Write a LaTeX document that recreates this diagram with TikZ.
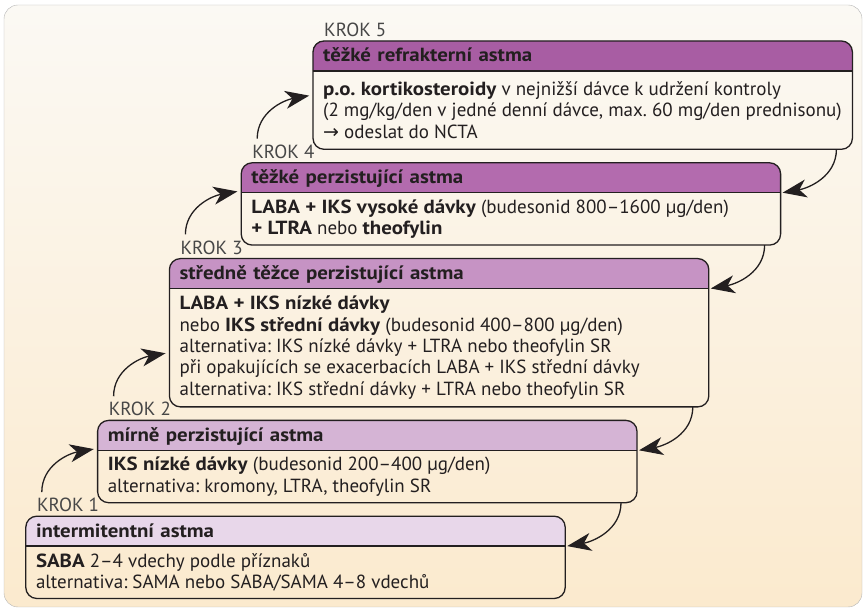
\documentclass[tikz,border=0pt]{standalone}
\usepackage{fontspec}
\setmainfont{PT Sans}[BoldFeatures={FakeStretch=1.1}]
\newfontfamily\arrowfont{DejaVu Sans}
\usetikzlibrary{arrows.meta,positioning,backgrounds}

\definecolor{frameline}{HTML}{B5B5B5}
\definecolor{bgtop}{HTML}{FBF9F4}
\definecolor{bgbottom}{HTML}{FBEACE}
\definecolor{boxline}{HTML}{231F20}
\definecolor{hd1}{HTML}{E8D7EA}
\definecolor{hd2}{HTML}{D5B4D5}
\definecolor{hd3}{HTML}{C693C4}
\definecolor{hd4}{HTML}{B36BAE}
\definecolor{hd5}{HTML}{A85DA3}

\frenchspacing
\begin{document}
\begin{tikzpicture}[
  x=1pt, y=1pt,
  font=\fontsize{19}{21.3}\selectfont,
  head/.style={anchor=north west, inner xsep=10pt, inner ysep=0pt, text width=519pt, minimum height=29.5pt, text height=14pt, text depth=2pt, font=\fontsize{19}{21.3}\selectfont\bfseries, text=boxline},
  body/.style={anchor=north west, inner xsep=10pt, inner ysep=0pt, align=left, text=boxline},
  krok/.style={inner sep=0pt, text=black!72},
  steparrow/.style={-{Stealth[length=24pt,width=18pt,inset=7pt]}, line width=1.3pt, draw=boxline},
  stepframe/.style={draw=boxline, line width=1.3pt, rounded corners=11pt}
]
  \useasboundingbox (0,0) rectangle (866,612);

  \node[head] (h5) at (313,571) {těžké refrakterní astma};
  \node[body, minimum height=78pt] (b5) at (h5.south west) {\textbf{p.o. kortikosteroidy} v nejnižší dávce k udržení kontroly\\(2 mg/kg/den v jedné denní dávce, max. 60 mg/den prednisonu)\\{\arrowfont →} odeslat do NCTA};

  \node[head] (h4) at ([shift={(-71.8,-13.5)}]b5.south west) {těžké perzistující astma};
  \node[body, minimum height=52pt] (b4) at (h4.south west) {\textbf{LABA + IKS vysoké dávky} (budesonid 800–1600 µg/den)\\\textbf{+ LTRA} nebo \textbf{theofylin}};

  \node[head] (h3) at ([shift={(-71.8,-13.5)}]b4.south west) {středně těžce perzistující astma};
  \node[body, minimum height=118pt] (b3) at (h3.south west) {\textbf{LABA + IKS nízké dávky}\\nebo \textbf{IKS střední dávky} (budesonid 400–800 µg/den)\\alternativa: IKS nízké dávky + LTRA nebo theofylin SR\\při opakujících se exacerbacích LABA + IKS střední dávky\\alternativa: IKS střední dávky + LTRA nebo theofylin SR};

  \node[head] (h2) at ([shift={(-71.8,-13.5)}]b3.south west) {mírně perzistující astma};
  \node[body, minimum height=52pt] (b2) at (h2.south west) {\textbf{IKS nízké dávky} (budesonid 200–400 µg/den)\\alternativa: kromony, LTRA, theofylin SR};

  \node[head] (h1) at ([shift={(-71.8,-13.5)}]b2.south west) {intermitentní astma};
  \node[body, minimum height=52pt] (b1) at (h1.south west) {\textbf{SABA} 2–4 vdechy podle příznaků\\alternativa: SAMA nebo SABA/SAMA 4–8 vdechů};

  % step labels and lower right box corners
  \foreach \n in {1,...,5} {
    \node[krok, above right=4pt and 11pt of h\n.north west] (k\n) {KROK \n};
    \coordinate (c\n) at (h\n.east |- b\n.south);
  }

  % frame, header bands and box outlines
  \begin{scope}[on background layer]
    \path[top color=bgtop, bottom color=bgbottom, draw=frameline, rounded corners=14pt] (4,5) rectangle (862,607);
    \foreach \n in {1,...,5} {
      \begin{scope}
        \clip (h\n.north west) rectangle (h\n.south east);
        \fill[hd\n, rounded corners=11pt] (h\n.north west) rectangle (c\n);
      \end{scope}
      \draw[boxline, line width=1.3pt] (h\n.south west) -- (h\n.south east);
      \draw[stepframe] (h\n.north west) rectangle (c\n);
    }
  \end{scope}

  % arrows up the left side and down the right side
  \foreach \lo/\hi in {1/2,2/3,3/4,4/5} {
    \draw[steparrow] ([shift={(5,6)}]k\lo.north west) to[out=90,in=190] ++(52,43);
    \draw[steparrow] ([xshift=-16pt]c\hi) to[out=270,in=10] ([xshift=2pt]h\lo.south east);
  }
\end{tikzpicture}
\end{document}
